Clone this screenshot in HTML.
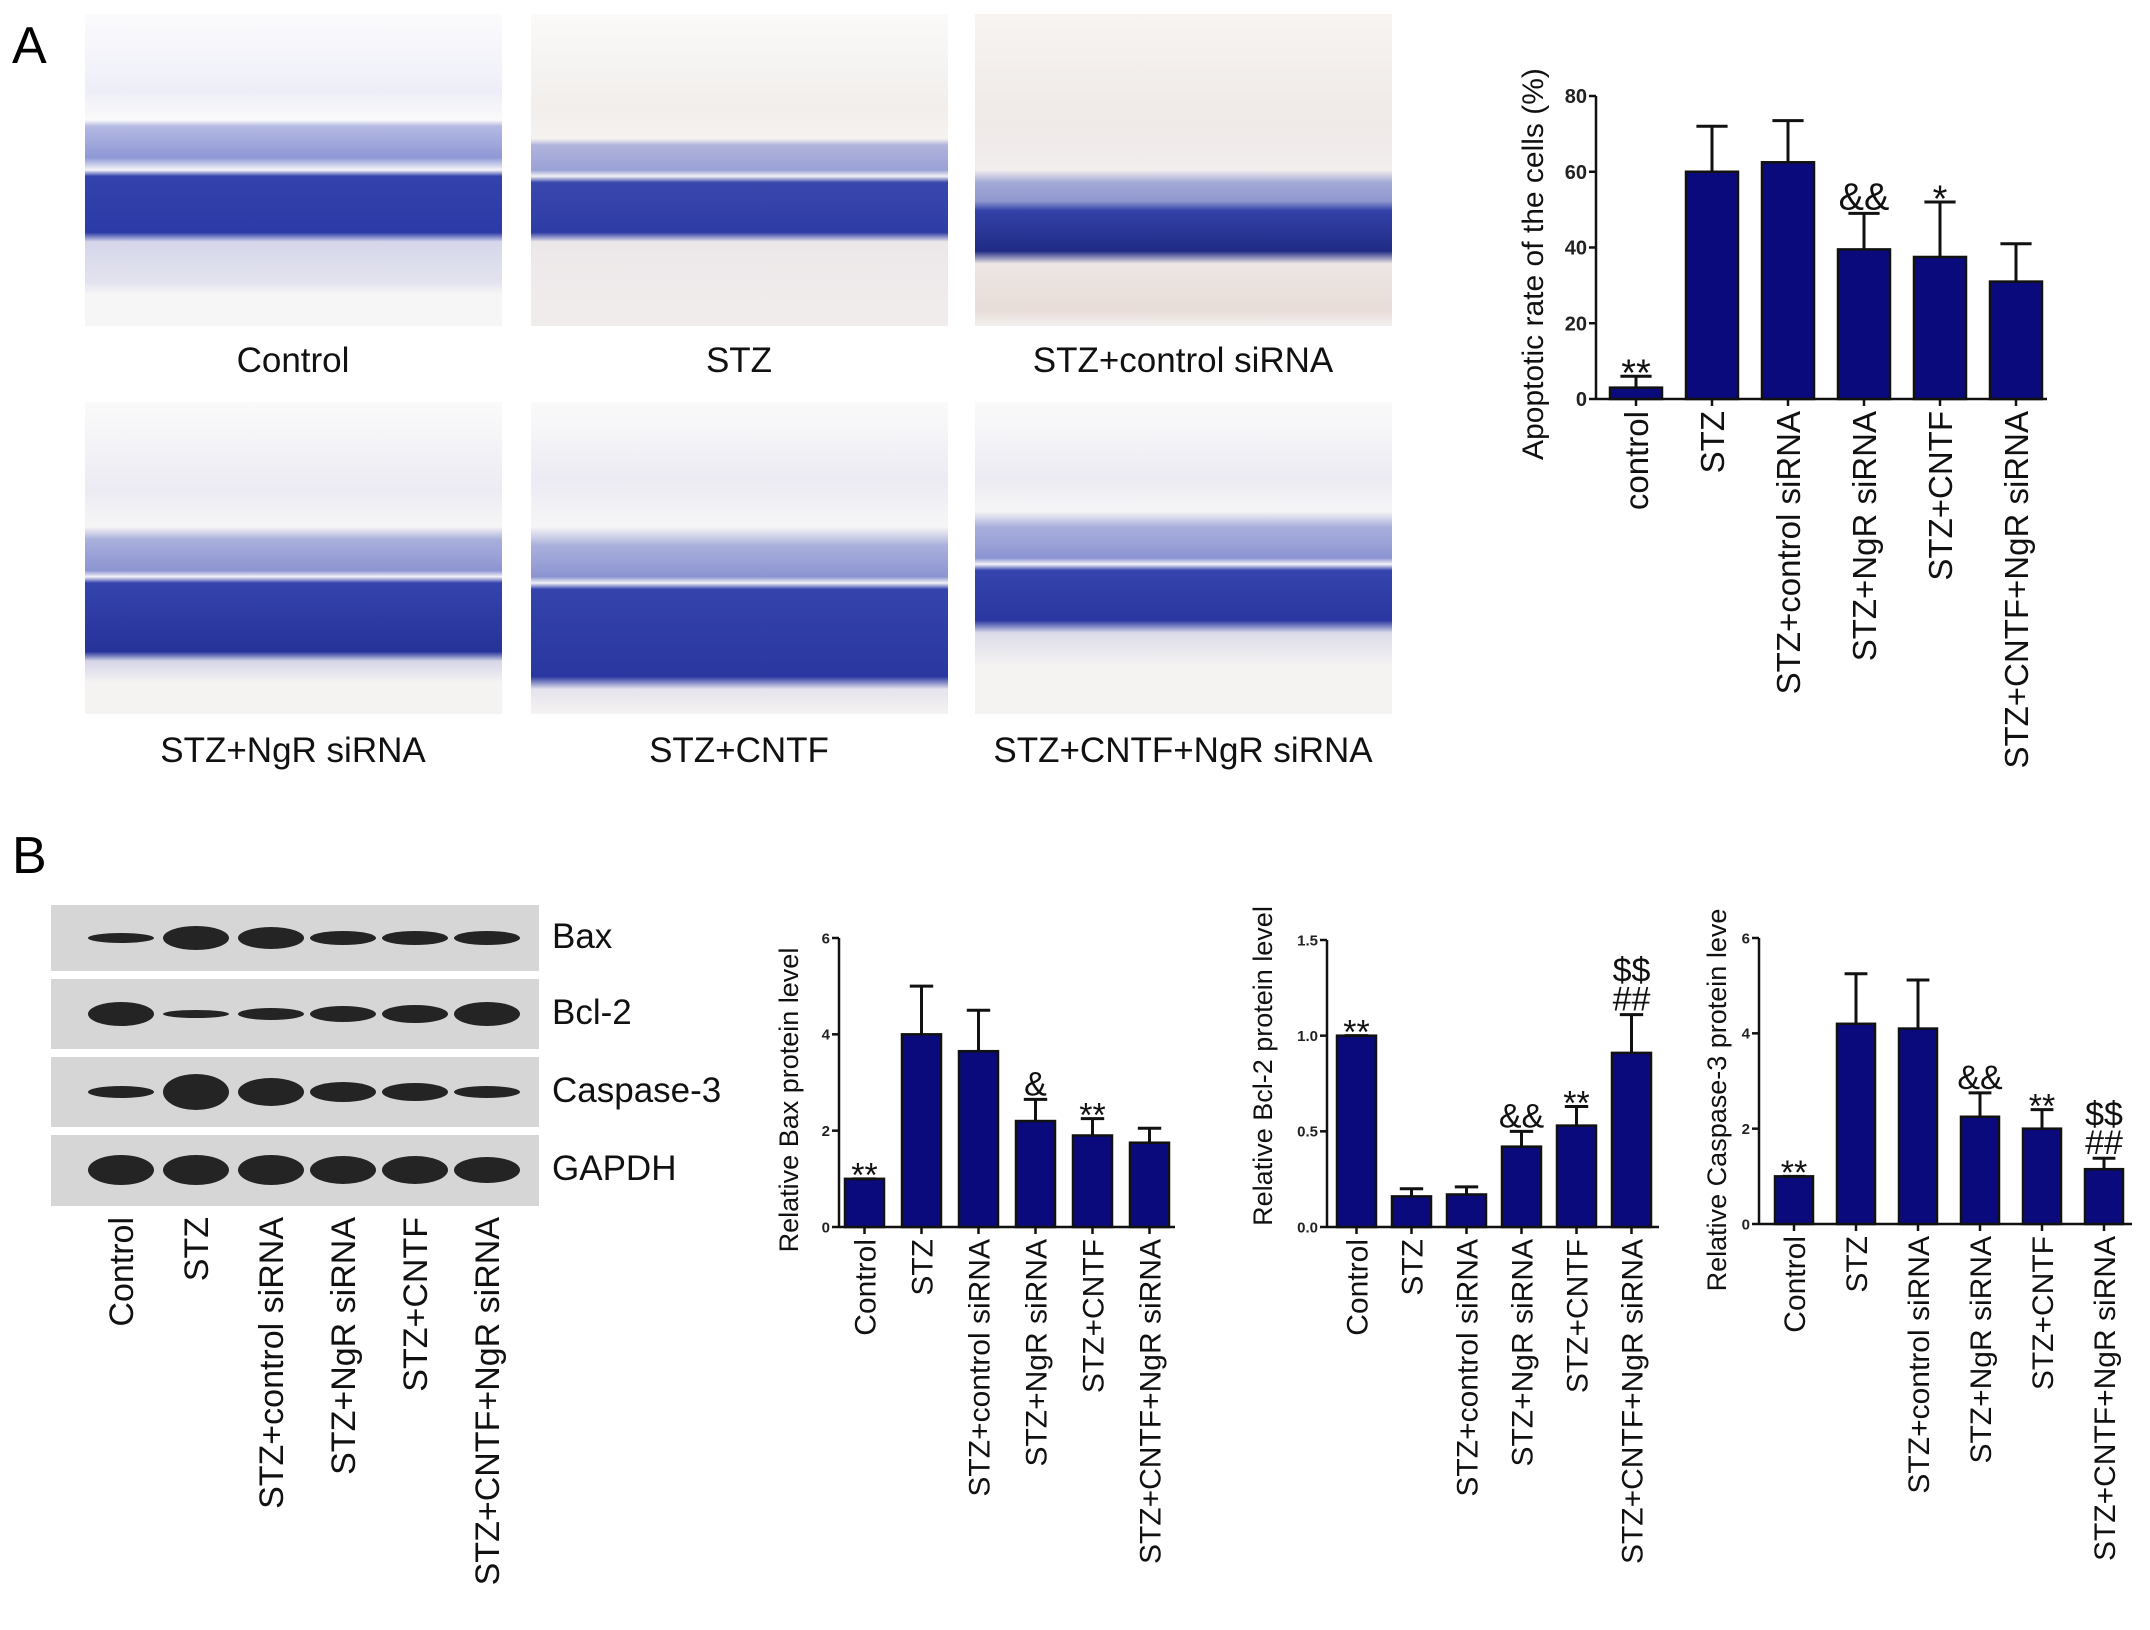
<!DOCTYPE html>
<html><head><meta charset="utf-8"><style>
body{margin:0;background:#fff;width:2150px;height:1630px;position:relative;overflow:hidden;font-family:"Liberation Sans",sans-serif}
.img{position:absolute;width:417px;height:312px}
.lbl{position:absolute;font-size:35px;color:#111;text-align:center;width:460px}
.bar-blot{position:absolute;left:51px;width:488px;background:#d6d6d6}
.blotlbl{position:absolute;left:552px;font-size:35px;color:#111}
</style></head><body>
<div style="position:absolute;left:12px;top:16px;font-size:52px">A</div>
<div style="position:absolute;left:12px;top:826px;font-size:52px">B</div>

<div class="img" style="left:85px;top:14px;background:linear-gradient(#fbfbfd 0%,#eeeef8 25%,#fafafa 34%,#b4b9e2 36%,#8f98d6 46%,#f4f4f8 50%,#3442ad 52%,#2b3aa6 70%,#d5d6ea 73%,#e3e3ef 86%,#f7f6f6 90%)"></div>
<div class="img" style="left:531px;top:14px;background:linear-gradient(#fbfaf8 0%,#f1eeec 30%,#f5f2f0 40%,#b0b4dc 42%,#9aa1d6 50%,#f2f1f3 52%,#3947ad 54%,#2e3ca6 70%,#ece8ea 73%,#f1edec 100%)"></div>
<div class="img" style="left:975px;top:14px;background:linear-gradient(#f7f4f2 0%,#efe9e7 35%,#f2eeee 50%,#a4aad6 54%,#8f97cf 60%,#3442a8 63%,#1f2b85 76%,#ece6e4 80%,#e8ddd8 95%,#f3efee 100%)"></div>
<div class="img" style="left:85px;top:402px;background:linear-gradient(#fbfafa 0%,#ecebf3 28%,#f6f5f6 40%,#aab0dc 44%,#8c94d2 54%,#f2f2f6 56%,#3543ad 58%,#263399 80%,#d5d5e8 83%,#f5f3f2 90%)"></div>
<div class="img" style="left:531px;top:402px;background:linear-gradient(#fbfafa 0%,#ecebf3 25%,#f6f5f6 40%,#aab0dc 46%,#8c94d2 56%,#f2f2f6 58%,#3543ad 60%,#2a37a0 88%,#e5e3ec 92%,#f5f3f2 100%)"></div>
<div class="img" style="left:975px;top:402px;background:linear-gradient(#fbfafa 0%,#ecebf3 25%,#f6f5f6 35%,#aab0dc 40%,#8c94d2 50%,#f2f2f6 52%,#3543ad 54%,#2a37a0 70%,#dcdcea 74%,#f5f3f2 85%)"></div>
<div class="lbl" style="left:63px;top:341px">Control</div>
<div class="lbl" style="left:509px;top:341px">STZ</div>
<div class="lbl" style="left:953px;top:341px">STZ+control siRNA</div>
<div class="lbl" style="left:63px;top:731px">STZ+NgR siRNA</div>
<div class="lbl" style="left:509px;top:731px">STZ+CNTF</div>
<div class="lbl" style="left:953px;top:731px">STZ+CNTF+NgR siRNA</div>

<div class="bar-blot" style="top:905px;height:66px"></div>
<div class="bar-blot" style="top:979px;height:70px"></div>
<div class="bar-blot" style="top:1057px;height:70px"></div>
<div class="bar-blot" style="top:1135px;height:71px"></div>
<div class="blotlbl" style="top:917px">Bax</div>
<div class="blotlbl" style="top:993px">Bcl-2</div>
<div class="blotlbl" style="top:1071px">Caspase-3</div>
<div class="blotlbl" style="top:1149px">GAPDH</div>

<svg id="svg" width="2150" height="1630" style="position:absolute;left:0;top:0"></svg>
<script>
const NS="http://www.w3.org/2000/svg";
const svg=document.getElementById('svg');
const lanes=[121,196,271,343,415,487];
const bandRows=[938,1014,1092,1170];
const bandH=[[10,24,22,14,14,14],[24,8,12,16,18,24],[12,36,28,20,18,12],[30,30,30,28,28,26]];
const blotLabels=["Control","STZ","STZ+control siRNA","STZ+NgR siRNA","STZ+CNTF","STZ+CNTF+NgR siRNA"];

const catsA=["control","STZ","STZ+control siRNA","STZ+NgR siRNA","STZ+CNTF","STZ+CNTF+NgR siRNA"];
const valsA=[3,60,62.5,39.5,37.5,31];
const errA=[6,72,73.5,49,52,41];
const annA=["**","","","&&","*",""];
const ticksA=[0,20,40,60,80];

const catsB=["Control","STZ","STZ+control siRNA","STZ+NgR siRNA","STZ+CNTF","STZ+CNTF+NgR siRNA"];
const valsBax=[1.0,4.0,3.65,2.2,1.9,1.75];
const errBax=[1.0,5.0,4.5,2.65,2.25,2.05];
const annBax=["**","","","&","**",""];
const ticksBax=[0,2,4,6];
const valsBcl=[1.0,0.16,0.17,0.42,0.53,0.91];
const errBcl=[1.0,0.2,0.21,0.5,0.63,1.11];
const annBcl=["**","","","&&","**","##|$$"];
const ticksBcl=["0.0","0.5","1.0","1.5"];
const valsCas=[1.0,4.2,4.1,2.25,2.0,1.15];
const errCas=[1.0,5.25,5.12,2.75,2.4,1.38];
const annCas=["**","","","&&","**","##|$$"];
const ticksCas=[0,2,4,6];

function el(tag,attrs,parent){const e=document.createElementNS(NS,tag);for(const k in attrs)e.setAttribute(k,attrs[k]);(parent||svg).appendChild(e);return e;}

bandRows.forEach((cy,r)=>{lanes.forEach((cx,i)=>{
  const b=el('ellipse',{cx:cx,cy:cy,rx:33,ry:bandH[r][i]/2,fill:'#151515',opacity:0.92});
  
  
});});
lanes.forEach((cx,i)=>{
  const t=el('text',{x:cx+12,y:1217,transform:`rotate(-90 ${cx+12} 1217)`,'text-anchor':'end','font-size':34,fill:'#111'});
  t.textContent=blotLabels[i];
  
  
});

function chart(c){
  const g=el('g',{});
  
  
  const ys=v=>c.y0-(v-c.min)/(c.max-c.min)*(c.y0-c.ytop);
  el('line',{x1:c.ax,y1:c.ytop,x2:c.ax,y2:c.y0,stroke:'#111','stroke-width':2.5},g);
  el('line',{x1:c.ax,y1:c.y0,x2:c.xend,y2:c.y0,stroke:'#111','stroke-width':2.5},g);
  c.ticks.forEach(t=>{const y=ys(+t);
    el('line',{x1:c.ax-7,y1:y,x2:c.ax,y2:y,stroke:'#111','stroke-width':2.5},g);
    const tx=el('text',{x:c.ax-9,y:y+c.tf*0.36,'text-anchor':'end','font-size':c.tf,'font-weight':'bold',fill:'#222'},g);
    tx.textContent=t;
    
    
  });
  c.vals.forEach((v,i)=>{
    const x=c.b0+i*c.pitch, cx=x+c.bw/2;
    const r=el('rect',{x:x,y:ys(v),width:c.bw,height:c.y0-ys(v),fill:'#0a0a7c',stroke:'#111','stroke-width':2.5},g);
    
    
    const et=ys(c.err[i]);
    el('line',{x1:cx,y1:ys(v),x2:cx,y2:et,stroke:'#111','stroke-width':3},g);
    el('line',{x1:cx-c.bw*0.3,y1:et,x2:cx+c.bw*0.3,y2:et,stroke:'#111','stroke-width':3},g);
    el('line',{x1:cx,y1:c.y0,x2:cx,y2:c.y0+7,stroke:'#111','stroke-width':2.5},g);
    if(c.ann[i]){const parts=c.ann[i].split('|');
      parts.forEach((p,k)=>{const star=p.indexOf('*')>=0;
        const a=el('text',{x:cx,y:et-4+(star?c.af*0.35:0)-k*c.af*0.85,'text-anchor':'middle','font-size':c.af,fill:'#111'},g);
        a.textContent=p;
        
        
      });}
    const lx=cx+c.cf*0.36, ly=c.y0+12;
    const t=el('text',{x:lx,y:ly,transform:`rotate(-90 ${lx} ${ly})`,'text-anchor':'end','font-size':c.cf,fill:'#111'},g);
    t.textContent=c.cats[i];
    
    
  });
  const t=el('text',{x:c.tx,y:c.ty,transform:`rotate(-90 ${c.tx} ${c.ty})`,'text-anchor':'middle','font-size':c.titf,fill:'#111'},g);
  t.textContent=c.title;
  
  
}
chart({name:'apoptosis-chart',cats:catsA,vals:valsA,err:errA,ann:annA,ticks:ticksA,min:0,max:80,ax:1596,ytop:96,y0:399,xend:2047,b0:1610,bw:52,pitch:76,tf:20,cf:33,af:38,titf:30,tx:1543,ty:264,title:'Apoptotic rate of the cells (%)'});
chart({name:'bax-chart',cats:catsB,vals:valsBax,err:errBax,ann:annBax,ticks:ticksBax,min:0,max:6,ax:839,ytop:938,y0:1227,xend:1175,b0:845,bw:39,pitch:57,tf:15,cf:30,af:34,titf:27,tx:798,ty:1100,title:'Relative Bax protein level'});
chart({name:'bcl2-chart',cats:catsB,vals:valsBcl,err:errBcl,ann:annBcl,ticks:ticksBcl,min:0,max:1.5,ax:1327,ytop:940,y0:1227,xend:1659,b0:1337,bw:39,pitch:55,tf:15,cf:30,af:34,titf:27,tx:1272,ty:1066,title:'Relative Bcl-2 protein level'});
chart({name:'caspase3-chart',cats:catsB,vals:valsCas,err:errCas,ann:annCas,ticks:ticksCas,min:0,max:6,ax:1759,ytop:938,y0:1224,xend:2132,b0:1775,bw:38,pitch:62,tf:15,cf:30,af:34,titf:27,tx:1726,ty:1100,title:'Relative Caspase-3 protein leve'});
</script>
</body></html>
